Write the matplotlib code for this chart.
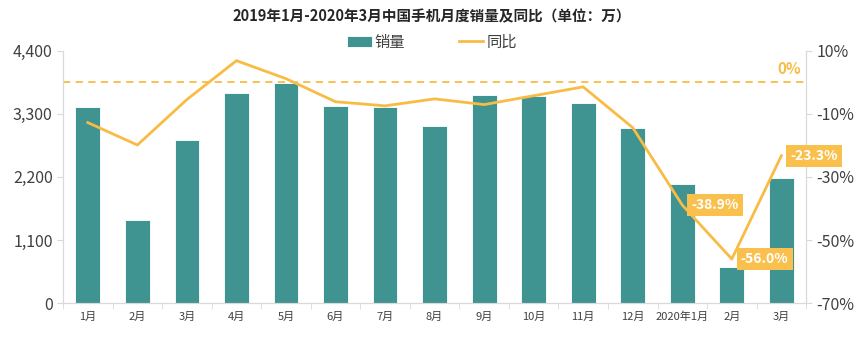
import matplotlib.pyplot as plt
import numpy as np
from matplotlib.ticker import FuncFormatter

plt.rcParams['font.family'] = ['Noto Sans CJK SC', 'DejaVu Sans']

months = ['1月', '2月', '3月', '4月', '5月', '6月', '7月', '8月', '9月', '10月',
          '11月', '12月', '2020年1月', '2月', '3月']
sales = [3410, 1450, 2840, 3660, 3840, 3430, 3425, 3090, 3630, 3605,
         3490, 3045, 2080, 630, 2180]
yoy = [-12.8, -19.9, -5.5, 6.8, 1.1, -6.2, -7.5, -5.3, -7.1, -4.3,
       -1.5, -14.4, -38.9, -56.0, -23.3]
labelled = [12, 13, 14]

bar_color = '#3F9390'
line_color = '#F8BC45'
grid_gray = '#D9D9D9'

fig = plt.figure(figsize=(8.64, 3.37), dpi=100)
ax = fig.add_axes([0.073, 0.10, 0.86, 0.75])
ax2 = ax.twinx()

x = np.arange(len(months))
ax.bar(x, sales, width=0.5, color=bar_color, edgecolor='white', linewidth=0.6,
       label='销量', zorder=2)
ax.set_ylim(0, 4400)
ax.set_yticks([0, 1100, 2200, 3300, 4400])
ax.yaxis.set_major_formatter(FuncFormatter(lambda v, p: f'{int(v):,}'))
ax.set_xlim(-0.5, len(months) - 0.5)
ax.set_xticks(x)
ax.set_xticklabels(months, fontsize=8, color='#404040')
ax.set_xticks(np.arange(-0.5, len(months), 1), minor=True)
ax.tick_params(axis='x', which='major', length=0, pad=6)
ax.tick_params(axis='x', which='minor', length=4, color=grid_gray)
ax.tick_params(axis='y', labelsize=11.5, colors='#404040', length=4, color=grid_gray)

ax2.plot(x, yoy, color=line_color, linewidth=2, label='同比', zorder=3)
ax2.axhline(0, color=line_color, linestyle=(0, (4, 3)), linewidth=1.3)
ax2.set_ylim(-70, 10)
ax2.set_yticks([-70, -50, -30, -10, 10])
ax2.yaxis.set_major_formatter(FuncFormatter(lambda v, p: f'{int(v)}%'))
ax2.tick_params(axis='y', labelsize=11.5, colors='#404040', length=4, color=grid_gray)

for a in (ax, ax2):
    a.spines['top'].set_visible(False)
    for side in ('left', 'right', 'bottom'):
        a.spines[side].set_color(grid_gray)

for i in labelled:
    ax2.annotate(f'{yoy[i]:.1f}%', (x[i], yoy[i]), xytext=(6.5, 0),
                 textcoords='offset points', ha='left', va='center',
                 fontsize=10, fontweight='bold', color='white',
                 bbox=dict(boxstyle='square,pad=0.3', fc='#F9C04D', ec='none'),
                 zorder=5)
ax2.text(len(months) - 0.6, 1.5, '0%', color=line_color, fontsize=11,
         fontweight='bold', ha='right', va='bottom')

h1, l1 = ax.get_legend_handles_labels()
h2, l2 = ax2.get_legend_handles_labels()
fig.legend(h1 + h2, l1 + l2, loc='center', bbox_to_anchor=(0.5, 0.875), ncol=2,
           frameon=False, fontsize=11, handlelength=1.6, handletextpad=0.2,
           columnspacing=3.5, labelcolor='#404040')

fig.suptitle('2019年1月-2020年3月中国手机月度销量及同比（单位：万）', y=0.975,
             fontsize=10.5, fontweight='bold', color='#262626')

fig.savefig('out.png', dpi=100, facecolor='white')
